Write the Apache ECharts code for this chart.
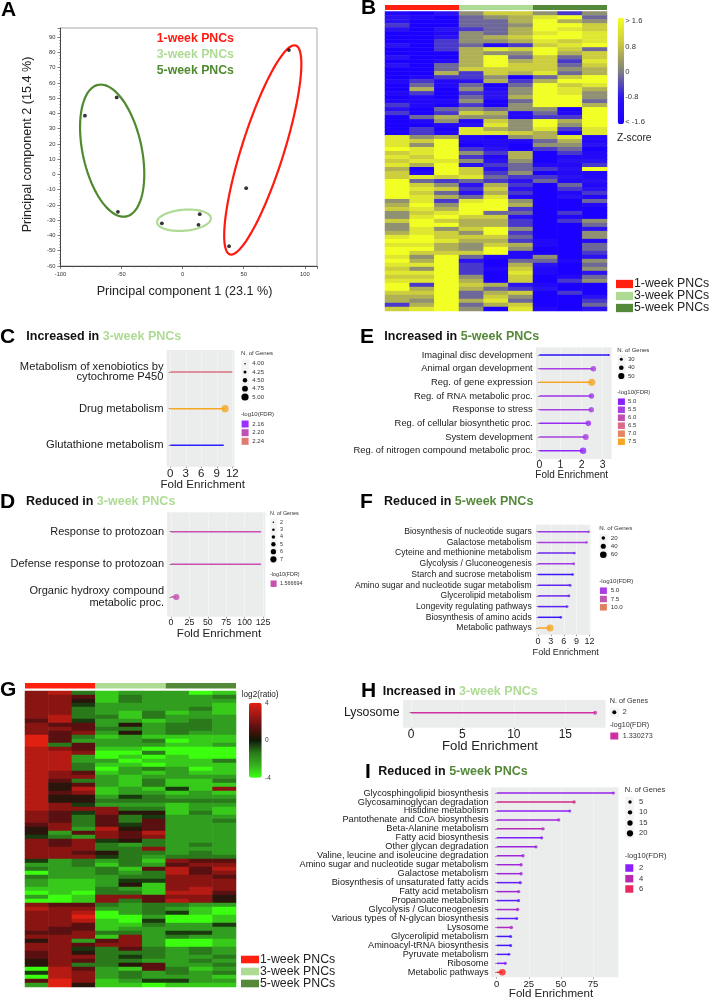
<!DOCTYPE html>
<html><head><meta charset="utf-8">
<style>html,body{margin:0;padding:0;background:#fff}#c{width:711px;height:999px;filter:blur(0.45px)}</style>
<script src="https://cdn.jsdelivr.net/npm/echarts@6/dist/echarts.min.js"></script>
</head><body><div id="c"></div>
<script>
// ---------- Panel A: PCA ----------
const pcaRed=[[87,81.5],[52,-9],[38,-47]];
const pcaLight=[[14,-26],[13,-33],[-17,-32]];
const pcaDark=[[-80,38.5],[-54,50.5],[-53,-24.5]];
// ellipse: centre x,y ; conjugate half-axis u x,y ; v x,y (data units)
const ellRed=[65.6,16.1,25.9,68.6,18.1,0];
const ellLight=[1.1,-30,3.8,7,21.7,0];
const ellDark=[-57.7,15.6,-9.3,43.3,24.6,0];
const groupNames=['1-week PNCs','3-week PNCs','5-week PNCs'];

// ---------- Panel B: z-score heatmap, one digit per column (0=-1.6 ... 9=+1.6) ----------
const heatB=["102577535","210456894","200446965","300445997","202346987","001546898","002567998","003556878","203413789","003687974","000655967","200694747","001696738","204697747","004777756","006376846","013350479","131263699","041404978","060515986","130325985","010426995","111504994","310305996","204545509","303761419","046551339","015175969","001285959","030865838","031887608","856105681","879111461","859010552","989320340","789536031","879316011","788525022","869234113","609724329","719735011","787843321","943432412","975263041","987372032","974263013","986481021","583895004","695996001","786993000","578944030","589772010","797663035","599663004","585795002","687593005","897774005","998663101","886576104","996595004","977791003","859411502","969204415","889306204","759317105","889308102","779507014","889607035","939762100","969643200","779467030","669475002","659684003","369467004","789508102"];

// ---------- Panel G: log2(ratio) heatmap (0=-4 ... 9=+4) ----------
const heatG=["783122201","776132223","775132222","774222221","773222231","773213121","783313222","684221232","766252332","776332332","767252322","963121111","962223011","936222112","876110000","887003000","882010100","882201113","883110111","883023201","876121211","877212222","863213113","856213111","858121417","867122121","855243222","855333333","874222122","877733121","764755131","763634222","763636223","673646222","572856222","526768222","432767222","767453222","767323232","777337222","776533232","777432333","423231766","223132677","322316868","022323867","322233776","211244777","211251777","111321787","010331886","201776775","001736875","766323322","877223210","778023410","779002001","778104001","776113224","766122222","667332442","777172322","572672001","776772001","774363232","675333232","677343223","576332232","573356223","086216312","487232323","087232221","697124422","295110111"];

// ---------- Lollipop panels ----------
const cNames=['Metabolism of xenobiotics by\ncytochrome P450','Drug metabolism','Glutathione metabolism'];
const cFold=[11.9,10.6,10.25]; const cGenes=[4,5,4]; const cFdr=[2.23,2.28,2.12];
const dNames=['Response to protozoan','Defense response to protozoan','Organic hydroxy compound\nmetabolic proc.'];
const dFold=[121.8,121.4,7.2]; const dGenes=[2,2,7]; const dFdr=[1.566694,1.566694,1.566694];
const eNames=['Imaginal disc development','Animal organ development','Reg. of gene expression','Reg. of RNA metabolic proc.','Response to stress','Reg. of cellular biosynthetic proc.','System development','Reg. of nitrogen compound metabolic proc.'];
const eFold=[3.29,2.56,2.48,2.47,2.46,2.32,2.2,2.07]; const eGenes=[25,46,56,45,45,46,48,52]; const eFdr=[4.5,5.5,7.5,5.3,5.5,5.2,5.5,5.1];
const fNames=['Biosynthesis of nucleotide sugars','Galactose metabolism','Cyteine and methionine metabolism','Glycolysis / Gluconeogenesis','Starch and sucrose metabolism','Amino sugar and nucleotide sugar metabolism','Glycerolipid metabolism','Longevity regulating pathways','Biosynthesis of amino acids','Metabolic pathways'];
const fFold=[11.8,11.3,8.47,8.3,8.08,7.46,7.2,6.76,5.3,2.8]; const fGenes=[7,7,9,12,8,12,11,11,8,66]; const fFdr=[4.7,5,3.8,4.8,2.8,3.6,3.7,3.5,2.8,12.5];
const hNames=['Lysosome']; const hFold=[17.9]; const hGenes=[2]; const hFdr=[1.330273];
const iNames=['Glycosphingolipid biosynthesis','Glycosaminoglycan degradation','Histidine metabolism','Pantothenate and CoA biosynthesis','Beta-Alanine metabolism','Fatty acid biosynthesis','Other glycan degradation','Valine, leucine and isoleucine degradation','Amino sugar and nucleotide sugar metabolism','Galactose metabolism','Biosynthesis of unsaturated fatty acids','Fatty acid metabolism','Propanoate metabolism','Glycolysis / Gluconeogenesis','Various types of N-glycan biosynthesis','Lysosome','Glycerolipid metabolism','Aminoacyl-tRNA biosynthesis','Pyruvate metabolism','Ribosome','Metabolic pathways'];
const iFold=[90.9,60.3,56.9,48.3,36.1,35,30.6,20.5,19,19,18.4,17.1,17,16.3,15.6,11.4,10.9,10.9,9.6,6.7,4.4];
const iGenes=[3,5,3,4,5,4,4,5,5,5,4,5,4,5,3,6,3,3,2,4,22];
const iFdr=[2.5,5,2.2,3,3.8,1.8,2.8,3,3,3,1.3,3,1,3.2,1.1,3.6,0.5,0.5,0.7,1.8,7.6];

// ---------- helpers ----------
const FONT='Liberation Sans';
function mix(a,b,t){const p=s=>[1,3,5].map(i=>parseInt(s.substr(i,2),16));const A=p(a),B=p(b);
  return 'rgb('+A.map((v,i)=>Math.round(v+(B[i]-v)*t)).join(',')+')';}
function colorScale(d0,d1,stops){return v=>{if(stops.length===1)return stops[0];
  let t=Math.max(0,Math.min(1,(v-d0)/(d1-d0)))*(stops.length-1);const i=Math.min(Math.floor(t),stops.length-2);
  return mix(stops[i],stops[i+1],t-i);};}
function sizeScale(g0,s0,g1,s1){return g=>Math.max(1.2,s0+(g-g0)*(s1-s0)/(g1-g0));}

const grids=[],xAxes=[],yAxes=[],series=[],graphic=[],visualMaps=[];
function T(text,x,y,size,o){o=o||{};graphic.push({type:'text',x:x,y:y,rotation:o.rot||0,silent:true,z:50,
  style:Object.assign({text:text,fontFamily:FONT,fontSize:size,fontWeight:o.bold?'bold':'normal',fill:o.color||'#1a1a1a',
  align:o.align||'left',verticalAlign:'middle'},o.rich?{rich:o.rich}:{})});}
function R(x,y,w,h,fill,z){graphic.push({type:'rect',silent:true,z:z||40,shape:{x:x,y:y,width:w,height:h},style:{fill:fill}});}
function C(x,y,d,fill){graphic.push({type:'circle',silent:true,z:45,shape:{cx:x,cy:y,r:d/2},style:{fill:fill||'#000'}});}
function addGrid(g,xa,ya){grids.push(Object.assign({containLabel:false},g));const i=grids.length-1;
  xAxes.push(Object.assign({gridIndex:i},xa));yAxes.push(Object.assign({gridIndex:i},ya));return i;}

// panel letters and titles
[['A',1,10],['B',361,8.5],['C',0,337],['D',0,502],['E',360,337],['F',360,502],['G',0,690],['H',361,691],['I',365,772]]
 .forEach(l=>T(l[0],l[1],l[2],21,{bold:true,color:'#000'}));
const LG='#aedb94',DG='#55893a';
function title(a,b,col,x,y){const S=12.5;T('{a|'+a+' }{b|'+b+'}',x,y,S,{rich:{a:{fontFamily:FONT,fontSize:S,fontWeight:'bold',fill:'#111'},b:{fontFamily:FONT,fontSize:S,fontWeight:'bold',fill:col}}});}
title('Increased in','3-week PNCs',LG,26.3,337);
title('Reduced in','3-week PNCs',LG,26,502);
title('Increased in','5-week PNCs',DG,384.3,337);
title('Reduced in','5-week PNCs',DG,384,502);
title('Increased in','3-week PNCs',LG,382.7,691.3);
title('Reduced in','5-week PNCs',DG,378.3,772);

// ---------- A ----------
(function(){
  const axisCommon={type:'value',axisLine:{show:true,onZero:false,lineStyle:{color:'#444',width:1}},
    axisTick:{show:true,length:3,lineStyle:{color:'#444',width:.7}},minorTick:{show:true,splitNumber:5,length:1.5,lineStyle:{color:'#666',width:.5}},splitLine:{show:false}};
  const g=addGrid({left:60.5,top:28,width:256.5,height:238,show:true,borderColor:'#aaa',borderWidth:1,backgroundColor:'#fff'},
    Object.assign({},axisCommon,{min:-100,max:110,interval:50,axisLabel:{fontFamily:FONT,fontSize:5.8,color:'#333',margin:5,formatter:v=>v%50===0?v:''}}),
    Object.assign({},axisCommon,{min:-60,max:96,interval:10,axisLabel:{fontFamily:FONT,fontSize:5.8,color:'#333',margin:5,formatter:v=>v%10===0?v:''}}));
  const draw=(p,api)=>{const pts=[];const d=[0,1,2,3,4,5].map(i=>api.value(i));
    for(let k=0;k<96;k++){const t=k/96*2*Math.PI;pts.push(api.coord([d[0]+d[2]*Math.cos(t)+d[4]*Math.sin(t),d[1]+d[3]*Math.cos(t)+d[5]*Math.sin(t)]));}
    return {type:'polygon',shape:{points:pts},style:{fill:'none',stroke:api.visual('color'),lineWidth:2.2}};};
  [[ellRed,'#ff1a10'],[ellLight,LG],[ellDark,'#4f8a30']].forEach(e=>series.push({type:'custom',xAxisIndex:g,yAxisIndex:g,renderItem:draw,itemStyle:{color:e[1]},data:[e[0]],clip:false,silent:true,z:2}));
  series.push({type:'scatter',xAxisIndex:g,yAxisIndex:g,symbolSize:3.8,itemStyle:{color:'#000'},data:[].concat(pcaRed,pcaLight,pcaDark),z:3,silent:true});
  T(groupNames[0],156.7,39,12.3,{bold:true,color:'#ff1a10'});
  T(groupNames[1],156.7,55,12.3,{bold:true,color:LG});
  T(groupNames[2],156.7,71,12.3,{bold:true,color:'#4f8a30'});
  T('Principal component 1 (23.1 %)',184.5,291.7,12.6,{align:'center',color:'#222'});
  T('Principal component 2 (15.4 %)',27.7,144.5,12.6,{align:'center',rot:Math.PI/2,color:'#222'});
})();

// ---------- heatmaps ----------
const cat=n=>Array.from({length:n},(_,i)=>String(i));
function heat(rows,left,top,w,h,scale,colors,barTop,barH,vm){
  const g=addGrid({left:left,top:top,width:w,height:h},{type:'category',data:cat(9),show:false},{type:'category',data:cat(rows.length),inverse:true,show:false});
  const data=[];rows.forEach((r,i)=>[...r].forEach((ch,j)=>data.push([j,i,(+ch-4.5)/4.5*scale])));
  series.push({type:'heatmap',xAxisIndex:g,yAxisIndex:g,data:data,progressive:0,silent:true,itemStyle:{borderWidth:0}});
  visualMaps.push(Object.assign({type:'continuous',seriesIndex:series.length-1,min:-scale,max:scale,inRange:{color:colors},calculable:false,padding:0,text:null,realtime:false,hoverLink:false},vm));
  const b=addGrid({left:left,top:barTop,width:w,height:barH},{type:'value',min:0,max:3,show:false},{type:'category',data:['g'],show:false});
  [['#ff2010'],[LG],[DG]].forEach(c=>series.push({type:'bar',stack:'band'+b,xAxisIndex:b,yAxisIndex:b,barWidth:'100%',silent:true,data:[1],itemStyle:{color:c[0]}}));
}
heat(heatB,385,11.5,222,299.5,1.6,['#1c00ff','#2c14f0','#808080','#c8c840','#f2ff25'],5,5,{left:617.7,top:17.7,itemWidth:6.3,itemHeight:106.6});
heat(heatG,25,691,211,296,4,['#3cff10','#34b020','#2a7a1c','#101808','#5a1010','#a01815','#e02010'],683,5.5,{left:249,top:702.7,itemWidth:12.7,itemHeight:75});

[['> 1.6',21],['0.8',46.7],['0',71.7],['-0.8',97],['< -1.6',121.7]].forEach(l=>T(l[0],625.3,l[1],7.6,{color:'#333'}));
T('Z-score',617,137.7,10.2,{color:'#222'});
T('log2(ratio)',241.7,695,8.2,{color:'#222'});
[['4',703.5],['0',740.7],['-4',778]].forEach(l=>T(l[0],265,l[1],6.5,{color:'#333'}));
function groupLegend(x,tx,ys,h){[['#ff2010',0],[LG,1],[DG,2]].forEach(k=>{R(x,ys[k[1]]-h/2,tx-x-1,h,k[0]);T(groupNames[k[1]],tx,ys[k[1]],12.3,{color:'#222'});});}
groupLegend(616,634,[284,296,308],8.3);
groupLegend(241,260,[959.5,971.5,983.5],7.6);

// ---------- lollipops ----------
function lollipop(p){
  const sx=(p.tickPx[1]-p.tickPx[0])/(p.tickVal[1]-p.tickVal[0]);
  const x0=p.tickPx[0]-p.tickVal[0]*sx;
  const max=(p.R-x0)/sx, w=p.R-x0, h=p.B-p.T, n=p.names.length;
  const band=(p.cat1-p.cat0)/Math.max(1,n-1)||h/1.2;
  addGrid({left:p.L,top:p.T,width:p.R-p.L,height:h,show:true,backgroundColor:'#ebecec',borderWidth:0},{type:'value',show:false,min:0,max:1},{type:'value',show:false,min:0,max:1});
  addGrid({left:x0,top:p.T,width:w,height:h},
    {type:'value',min:0,max:max,interval:p.interval,axisLine:{show:false},axisTick:{show:true,length:1.5,lineStyle:{color:'#555',width:.6}},
     axisLabel:{fontFamily:FONT,fontSize:p.tickFont,color:'#222',margin:p.labelY-p.tickFont/2-p.B,formatter:v=>Math.abs(v/p.interval-Math.round(v/p.interval))<1e-6?v:'',showMaxLabel:false},
     splitLine:{show:true,lineStyle:{color:'#f5f6f6',width:.7}},minorSplitLine:{show:false},minorTick:{show:false}},
    {type:'value',show:false,min:0,max:1});
  const g=addGrid({left:x0,top:p.cat0-band/2,width:w,height:band*n},
    {type:'value',show:false,min:0,max:max},
    {type:'category',inverse:true,data:p.names,offset:x0-p.L,axisLine:{show:false},axisTick:{show:true,length:1.5,alignWithLabel:true,lineStyle:{color:'#444',width:.6}},
     axisLabel:{fontFamily:FONT,fontSize:p.font,color:'#1a1a1a',margin:p.L-p.labelR,lineHeight:p.lh||p.font+1,interval:0,align:'right'},splitLine:{show:false}});
  const col=colorScale(p.dom[0],p.dom[1],p.stops), size=sizeScale.apply(null,p.size);
  series.push({type:'bar',xAxisIndex:g,yAxisIndex:g,barWidth:p.lw||1.5,silent:true,z:3,data:p.fold.map((v,i)=>({value:v,itemStyle:{color:col(p.fdr[i])}}))});
  series.push({type:'scatter',xAxisIndex:g,yAxisIndex:g,silent:true,z:4,data:p.fold.map((v,i)=>({value:[v,i],symbolSize:size(p.genes[i]),itemStyle:{color:col(p.fdr[i])}}))});
  T('Fold Enrichment',p.nameX,p.nameY,p.nameFont,{align:'center',color:'#222'});
  // side legends
  const lg=p.legend;
  T('N. of Genes',lg.x,lg.y1,lg.font,{color:'#333'});
  const kw=lg.key;
  R(lg.x+.3,lg.rows[0]-lg.step/2,kw,lg.step*lg.rows.length,'#f4f4f4',38);
  lg.genes.forEach((g0,i)=>{C(lg.dotX,lg.rows[i],size(g0));T(lg.geneLabels[i],lg.labX,lg.rows[i],lg.font,{color:'#333'});});
  T('-log10(FDR)',lg.x,lg.y2,lg.font,{color:'#333'});
  lg.fdr.forEach((f,i)=>{R(lg.x+.6,lg.frows[i]-lg.sw/2,kw-1,lg.sw,col(f));T(lg.fdrLabels[i],lg.labX,lg.frows[i],lg.font,{color:'#333'});});
}
lollipop({names:cNames,fold:cFold,genes:cGenes,fdr:cFdr,L:166.7,R:234.3,T:350,B:466.7,tickPx:[170.3,232.3],tickVal:[0,12],interval:3,cat0:372,cat1:445.3,
  font:11.2,lh:10.4,labelR:163.5,tickFont:11.5,labelY:473.7,nameX:202.7,nameY:484.7,nameFont:11.6,dom:[2.12,2.28],stops:['#2a20ff','#9a30ff','#c050b8','#e07a70','#f5a623'],size:[4,1.6,5,7.2],
  legend:{x:241,y1:353.7,font:6,key:8,step:8.4,dotX:245,labX:252.3,rows:[363.7,372,380.3,388.7,397],genes:[4,4.25,4.5,4.75,5],geneLabels:['4.00','4.25','4.50','4.75','5.00'],y2:414.7,sw:7,frows:[424,432.7,441.3],fdr:[2.16,2.20,2.24],fdrLabels:['2.16','2.20','2.24']}});
lollipop({names:dNames,fold:dFold,genes:dGenes,fdr:dFdr,L:167,R:265,T:512.3,B:616.8,tickPx:[171,263],tickVal:[0,125],interval:25,cat0:531.7,cat1:597,
  font:11,lh:12,labelR:164,tickFont:8.8,labelY:622.7,nameX:219,nameY:633.3,nameFont:11.6,dom:[1,2],stops:['#c850b0'],size:[2,1.6,7,6.2],
  legend:{x:270,y1:513.7,font:5.4,key:7,step:7.4,dotX:273.4,labX:280,rows:[522.3,529.7,537,544.3,551.7,559.3],genes:[2,3,4,5,6,7],geneLabels:['2','3','4','5','6','7'],y2:574.7,sw:6.5,frows:[583.7],fdr:[1.566694],fdrLabels:['1.566694']}});
lollipop({names:eNames,fold:eFold,genes:eGenes,fdr:eFdr,L:536,R:611.7,T:347.3,B:459,tickPx:[539.3,602.7],tickVal:[0,3],interval:1,cat0:355,cat1:450.7,
  font:9.4,labelR:532.7,tickFont:10.5,labelY:464.7,nameX:571.7,nameY:475.7,nameFont:10,dom:[4.5,7.5],stops:['#2a10ff','#8a20ff','#a83fe0','#c050b0','#d86a88','#e58660','#f5a623'],size:[30,3,50,6.2],
  legend:{x:617.3,y1:350.3,font:6,key:8,step:8.3,dotX:621.3,labX:628,rows:[359.3,367.7,376],genes:[30,40,50],geneLabels:['30','40','50'],y2:392.7,sw:6.5,frows:[401.7,409.7,417.7,425.7,433.7,441.7],fdr:[5,5.5,6,6.5,7,7.5],fdrLabels:['5.0','5.5','6.0','6.5','7.0','7.5']}});
lollipop({names:fNames,fold:fFold,genes:fGenes,fdr:fFdr,L:536,R:590.7,T:524.7,B:634.7,tickPx:[538,589.5],tickVal:[0,12],interval:3,cat0:531.7,cat1:628,
  font:8.6,labelR:531.7,tickFont:9,labelY:641.7,nameX:565.7,nameY:652.3,nameFont:9.1,dom:[2.5,12.5],stops:['#2a10ff','#a83fe0','#c05ab0','#e08060','#f5a623'],size:[20,3.6,60,6.6],
  legend:{x:599.3,y1:528.3,font:6.2,key:8,step:8.3,dotX:603.3,labX:610.7,rows:[538,546.3,554.7],genes:[20,40,60],geneLabels:['20','40','60'],y2:581.3,sw:6.5,frows:[590.7,599,607.3],fdr:[5,7.5,10],fdrLabels:['5.0','7.5','10.0']}});
lollipop({names:hNames,fold:hFold,genes:hGenes,fdr:hFdr,L:403,R:605.7,T:700,B:727.7,tickPx:[411,565.3],tickVal:[0,15],interval:5,cat0:712.7,cat1:712.7,
  font:12.3,labelR:399.5,tickFont:12,labelY:735,nameX:490,nameY:746,nameFont:13.2,dom:[1,2],stops:['#d030a0'],size:[1,2,3,6],
  legend:{x:609.7,y1:701.3,font:7.2,key:9,step:9,dotX:614.3,labX:622.7,rows:[712.3],genes:[2],geneLabels:['2'],y2:725,sw:7,frows:[736],fdr:[1.330273],fdrLabels:['1.330273']}});
lollipop({names:iNames,fold:iFold,genes:iGenes,fdr:iFdr,L:491,R:618.3,T:787.3,B:977.3,tickPx:[496.7,593],tickVal:[0,75],interval:25,cat0:793,cat1:972.3,
  font:9.2,lh:9,labelR:488.5,tickFont:9.5,labelY:983.7,nameX:551,nameY:994,nameFont:11.6,dom:[0,8],stops:['#2a10ff','#8a20ff','#b82ab0','#e82a60','#ff2010'],size:[5,3.4,20,6.2],
  legend:{x:624.7,y1:789.7,font:7.6,key:9,step:10.4,dotX:630,labX:639,rows:[802,812.3,823,833.3],genes:[5,10,15,20],geneLabels:['5','10','15','20'],y2:856,sw:7.5,frows:[868,878.7,889],fdr:[2,4,6],fdrLabels:['2','4','6']}});

const chart=echarts.init(document.getElementById('c'),null,{renderer:'canvas',width:711,height:999});
chart.setOption({animation:false,backgroundColor:'#fff',tooltip:{show:false},grid:grids,xAxis:xAxes,yAxis:yAxes,series:series,visualMap:visualMaps,graphic:{elements:graphic}});
</script></body></html>
